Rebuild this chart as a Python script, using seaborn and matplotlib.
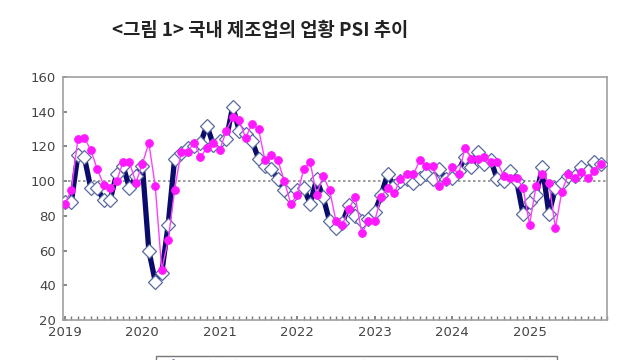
import matplotlib
matplotlib.use("Agg")
import matplotlib.pyplot as plt
import seaborn as sns
import numpy as np
import pandas as pd

title = "<그림 1> 국내 제조업의 업황 PSI 추이"
years = ["2019", "2020", "2021", "2022", "2023", "2024", "2025"]
labels = ["업황 현황 PSI", "업황 전망 PSI", "기준(100)"]

current_psi = [88, 88, 115, 114, 96, 96, 89, 89, 104, 109, 96, 103,
               109, 60, 42, 47, 75, 113, 116, 119, 120, 122, 132, 121,
               123, 124, 143, 129, 127, 123, 113, 109, 107, 101, 95, 91,
               95, 96, 87, 101, 91, 77, 73, 76, 86, 80, 77, 78,
               82, 92, 104, 97, 100, 101, 99, 102, 104, 101, 107, 101,
               102, 106, 114, 108, 117, 110, 112, 101, 100, 106, 100, 81,
               88, 92, 108, 81, 96, 99, 103, 103, 108, 106, 111, 110]
outlook_psi = [87, 95, 124, 125, 118, 107, 98, 96, 100, 111, 111, 99,
               110, 122, 97, 49, 66, 95, 117, 117, 122, 114, 119, 122,
               118, 129, 137, 135, 125, 133, 130, 112, 115, 112, 100, 87,
               92, 107, 111, 92, 103, 95, 77, 75, 84, 91, 70, 77,
               77, 91, 96, 93, 101, 104, 104, 112, 109, 109, 97, 100,
               108, 104, 119, 113, 113, 114, 111, 111, 103, 102, 102, 96,
               75, 97, 104, 99, 73, 94, 104, 102, 105, 102, 106, 110]
baseline = 100

months = np.arange(len(current_psi))
df = pd.DataFrame({"m": months, "cur": current_psi, "out": outlook_psi})

sns.set_theme(style="white")
plt.rcParams["font.family"] = ["Noto Sans CJK KR", "DejaVu Sans"]

fig = plt.figure(figsize=(6.4, 3.6), dpi=100)
ax = fig.add_axes([63/640, 1-320/360, (607-63)/640, (320-77)/360])

ax.axhline(baseline, color="#8c8c8c", lw=1.2, ls=(0, (1.5, 1.5)), zorder=1, label=labels[2])
sns.lineplot(data=df, x="m", y="cur", ax=ax, color="#0b0b6b", lw=3.8,
             marker="D", markersize=7, markerfacecolor="white",
             markeredgecolor="#5a6aa0", markeredgewidth=0.9, zorder=3, label=labels[0])
sns.lineplot(data=df, x="m", y="out", ax=ax, color="#ff40ff", lw=1.0,
             marker="o", markersize=5.5, markerfacecolor="#ff19ff",
             markeredgecolor="#ff19ff", zorder=4, label=labels[1])

ax.set_xlim(-0.3, 84)
ax.set_ylim(20, 160)
ax.set_yticks(range(20, 161, 20))
ax.set_xticks(np.arange(0, 84, 12))
ax.set_xticklabels(years)
ax.set_xticks(np.arange(0, 85, 1), minor=True)
ax.set_xlabel("")
ax.set_ylabel("")
for s in ax.spines.values():
    s.set_color("#a0a0a0")
    s.set_linewidth(1.2)
ax.tick_params(axis="x", which="both", direction="in", length=3, color="#777777",
               labelsize=9.5, labelcolor="#444444", pad=4, bottom=True)
ax.tick_params(axis="y", direction="in", length=3, color="#777777",
               labelsize=9.5, labelcolor="#444444", left=True, pad=5)
for t in ax.get_xticklabels() + ax.get_yticklabels():
    t.set_family("DejaVu Sans")

ax.get_legend().remove()
h, l = ax.get_legend_handles_labels()
order = [l.index(labels[0]), l.index(labels[1]), l.index(labels[2])]
fig.legend([h[i] for i in order], [l[i] for i in order], loc="upper left",
           bbox_to_anchor=(150/640, 1-350/360), ncol=3, frameon=True,
           fontsize=9, fancybox=False, edgecolor="#555555", borderpad=0.3,
           columnspacing=3.8)

fig.text(260/640, 1-30/360, title, ha="center", va="center", fontsize=13.5,
         fontweight="bold", color="#222222")

fig.savefig("out.png", dpi=100)
